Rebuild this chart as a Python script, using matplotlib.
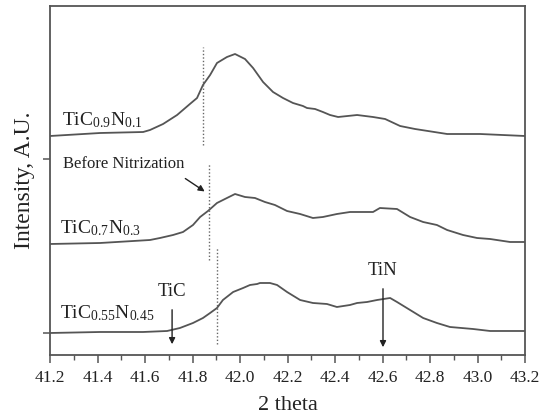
import matplotlib
matplotlib.use('Agg')
import matplotlib.pyplot as plt
from matplotlib.ticker import MultipleLocator

plt.rcParams['font.family'] = 'Liberation Serif'
plt.rcParams['mathtext.fontset'] = 'custom'
plt.rcParams['mathtext.rm'] = 'Liberation Serif'
plt.rcParams['mathtext.it'] = 'Liberation Serif:italic'

# traces (2 theta, stacked intensity in a.u.)
theta_top = [41.200, 41.411, 41.592, 41.621, 41.676, 41.735, 41.789, 41.819, 41.844,
             41.874, 41.903, 41.945, 41.979, 42.021, 42.055, 42.097, 42.139, 42.181,
             42.223, 42.265, 42.282, 42.316, 42.349, 42.379, 42.413, 42.493, 42.560,
             42.611, 42.674, 42.737, 42.872, 43.011, 43.200]
int_top = [219, 222, 223, 225, 231, 240, 251, 257, 270, 280, 292, 298, 301, 296, 287,
           273, 263, 257, 252, 249, 247, 246, 243, 240, 238, 240, 238, 236, 229, 226,
           221, 221, 219]

theta_mid = [41.200, 41.411, 41.621, 41.663, 41.718, 41.760, 41.802, 41.832, 41.865,
             41.903, 41.945, 41.979, 42.021, 42.063, 42.105, 42.147, 42.198, 42.253,
             42.307, 42.349, 42.408, 42.463, 42.560, 42.589, 42.661, 42.716, 42.771,
             42.829, 42.872, 42.939, 42.998, 43.053, 43.137, 43.200]
int_mid = [111, 112, 115, 117, 120, 123, 130, 138, 144, 152, 157, 161, 158, 157, 153,
           150, 144, 141, 137, 138, 141, 143, 143, 147, 146, 138, 133, 130, 125, 120,
           117, 116, 113, 113]

theta_bot = [41.200, 41.411, 41.592, 41.693, 41.747, 41.802, 41.844, 41.874, 41.903,
             41.928, 41.971, 42.013, 42.042, 42.072, 42.084, 42.126, 42.156, 42.198,
             42.253, 42.307, 42.366, 42.408, 42.463, 42.493, 42.535, 42.577, 42.632,
             42.661, 42.716, 42.771, 42.829, 42.884, 42.981, 43.053, 43.200]
int_bot = [22, 23, 23, 24, 27, 32, 37, 42, 47, 55, 63, 67, 70, 71, 72, 72, 70, 63, 55,
           52, 51, 48, 50, 52, 53, 55, 57, 53, 45, 37, 32, 28, 26, 24, 24]

labels = [r'TiC$_{0.9}$N$_{0.1}$', r'TiC$_{0.7}$N$_{0.3}$', r'TiC$_{0.55}$N$_{0.45}$']
label_pos = [(41.251, 230), (41.242, 122), (41.242, 37)]

# dotted markers: position, y range
dot_x = [41.844, 41.869, 41.905]
dot_y = [(210, 308), (95, 192), (11, 107)]

tic_x = 41.714
tin_x = 42.602

fig = plt.figure(figsize=(5.43, 4.17), dpi=100)
ax = fig.add_axes([0.0921, 0.1487, 0.8748, 0.8369])

line_col = '#555555'
txt_col = '#222222'

ax.plot(theta_top, int_top, color=line_col, lw=1.3)
ax.plot(theta_mid, int_mid, color=line_col, lw=1.3)
ax.plot(theta_bot, int_bot, color=line_col, lw=1.3)

for x, (y0, y1) in zip(dot_x, dot_y):
    ax.plot([x, x], [y0, y1], color='#666666', lw=1.0, linestyle=(0, (1, 1.5)))

for lab, (x, y) in zip(labels, label_pos):
    ax.text(x, y, lab, fontsize=14, color=txt_col, va='baseline', ha='left')

arrow = dict(arrowstyle='-|>', color=txt_col, lw=1.0, mutation_scale=9)
ax.annotate('', xy=(41.861, 162), xytext=(41.760, 178), arrowprops=arrow)
ax.text(41.255, 191, 'Before Nitrization', fontsize=12, color=txt_col, va='center', ha='left')

ax.annotate('', xy=(tic_x, 8), xytext=(tic_x, 48), arrowprops=arrow)
ax.text(tic_x, 63, 'TiC', fontsize=13.5, color=txt_col, va='center', ha='center')
ax.annotate('', xy=(tin_x, 5), xytext=(tin_x, 69), arrowprops=arrow)
ax.text(tin_x, 84, 'TiN', fontsize=13.5, color=txt_col, va='center', ha='center')

ax.set_xlim(41.2, 43.2)
ax.set_ylim(0, 349)
ax.xaxis.set_major_locator(MultipleLocator(0.2))
ax.xaxis.set_minor_locator(MultipleLocator(0.1))
ax.set_xticklabels([f'{v:.1f}' for v in ax.get_xticks()])
ax.set_yticks([22, 196])
ax.set_yticklabels([])
ax.tick_params(axis='x', which='major', direction='out', length=6, width=1.1,
               color=line_col, labelsize=12.5, labelcolor=txt_col, pad=5)
ax.tick_params(axis='x', which='minor', direction='out', length=3.5, width=1.0,
               color=line_col)
ax.tick_params(axis='y', direction='out', length=5, width=1.1, color=line_col)

for sp in ax.spines.values():
    sp.set_color(line_col)
    sp.set_linewidth(1.3)

ax.set_xlabel('2 theta', fontsize=16, color=txt_col, labelpad=7)
ax.set_ylabel('Intensity, A.U.', fontsize=17, color=txt_col, labelpad=2)

fig.savefig('out.png', dpi=100)
